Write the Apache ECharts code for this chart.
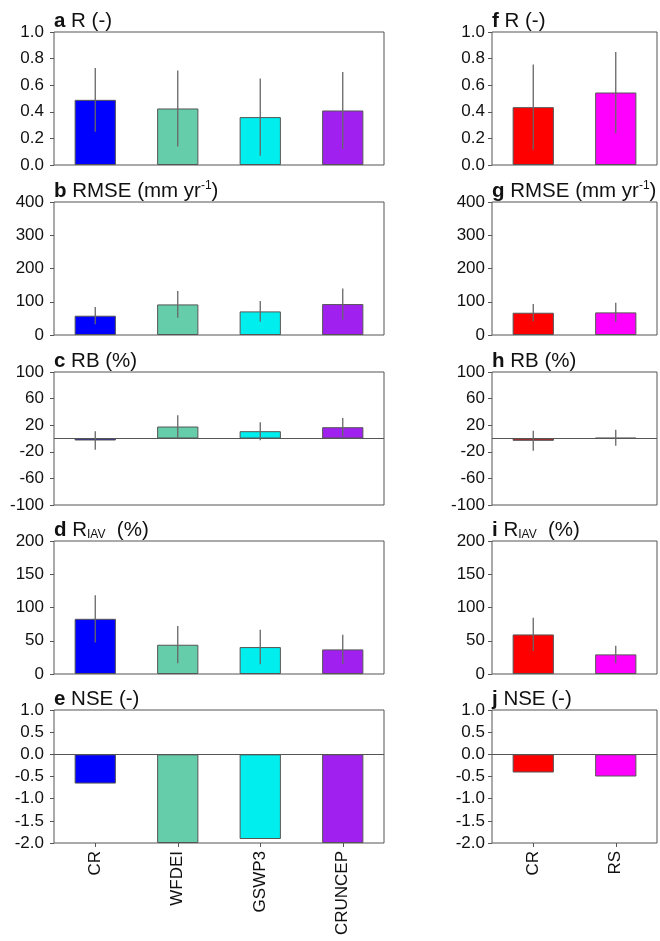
<!DOCTYPE html>
<html>
<head>
<meta charset="utf-8">
<script src="https://cdn.jsdelivr.net/npm/echarts@6/dist/echarts.min.js"></script>
<style>
  html, body { margin: 0; padding: 0; background: #fff; }
  #chart { width: 660px; height: 941px; }
</style>
</head>
<body>
<div id="chart"></div>
<script>
// categories and colours
const leftCats = ['CR', 'WFDEI', 'GSWP3', 'CRUNCEP'];
const rightCats = ['CR', 'RS'];
const leftColors = ['#0000FF', '#66CDAA', '#00EEEE', '#A020F0'];
const rightColors = ['#FF0000', '#FF00FF'];

// R (-)
const rLeft = [0.49, 0.425, 0.36, 0.41];
const rLeftErr = [0.24, 0.285, 0.29, 0.29];
const rRight = [0.435, 0.545];
const rRightErr = [0.32, 0.305];

// RMSE (mm/yr)
const rmseLeft = [58, 92, 71, 93];
const rmseLeftErr = [26, 40, 31, 47];
const rmseRight = [67, 68];
const rmseRightErr = [26, 29];

// RB (%)
const rbLeft = [-3, 18, 11, 17];
const rbLeftErr = [14, 17, 13.5, 14];
const rbRight = [-3.5, 1];
const rbRightErr = [15, 12];

// R_IAV (%)
const riavLeft = [83, 44, 40.5, 37];
const riavLeftErr = [35.5, 28, 26, 22];
const riavRight = [59.5, 29.5];
const riavRightErr = [25, 13];

// NSE (-)
const nseLeft = [-0.66, -2.0, -1.91, -2.0];
const nseRight = [-0.41, -0.5];

const panels = [
  { t: '{b|a} R (-)', min: 0, max: 1, step: 0.2, dec: 1, side: 0, row: 0, v: rLeft, e: rLeftErr },
  { t: '{b|b} RMSE (mm yr{sup|-1})', min: 0, max: 400, step: 100, dec: 0, side: 0, row: 1, v: rmseLeft, e: rmseLeftErr },
  { t: '{b|c} RB (%)', min: -100, max: 100, step: 40, dec: 0, side: 0, row: 2, v: rbLeft, e: rbLeftErr },
  { t: '{b|d} R{sub|IAV}  (%)', min: 0, max: 200, step: 50, dec: 0, side: 0, row: 3, v: riavLeft, e: riavLeftErr },
  { t: '{b|e} NSE (-)', min: -2, max: 1, step: 0.5, dec: 1, side: 0, row: 4, v: nseLeft, e: null },
  { t: '{b|f} R (-)', min: 0, max: 1, step: 0.2, dec: 1, side: 1, row: 0, v: rRight, e: rRightErr },
  { t: '{b|g} RMSE (mm yr{sup|-1})', min: 0, max: 400, step: 100, dec: 0, side: 1, row: 1, v: rmseRight, e: rmseRightErr },
  { t: '{b|h} RB (%)', min: -100, max: 100, step: 40, dec: 0, side: 1, row: 2, v: rbRight, e: rbRightErr },
  { t: '{b|i} R{sub|IAV}  (%)', min: 0, max: 200, step: 50, dec: 0, side: 1, row: 3, v: riavRight, e: riavRightErr },
  { t: '{b|j} NSE (-)', min: -2, max: 1, step: 0.5, dec: 1, side: 1, row: 4, v: nseRight, e: null }
];

const rowTops = [32, 202, 372, 541, 710];
const plotH = 133;
const lineCol = '#555';
const font = 'Arial, "Liberation Sans", Helvetica, sans-serif';

const chart = echarts.init(document.getElementById('chart'));
const option = { animation: false, title: [], grid: [], xAxis: [], yAxis: [], series: [] };

panels.forEach((p, i) => {
  const cats = p.side ? rightCats : leftCats;
  const colors = p.side ? rightColors : leftColors;
  const left = p.side ? 492 : 54;
  const width = cats.length * 82.5;
  const top = rowTops[p.row];
  const bottomRow = p.row === 4;

  option.title.push({
    text: p.t, left: left, top: top - 22, padding: 0,
    textStyle: {
      fontFamily: font, fontSize: 20.5, fontWeight: 'normal', color: '#111', lineHeight: 22,
      rich: {
        b: { fontFamily: font, fontSize: 20.5, fontWeight: 'bold', color: '#111', lineHeight: 22, verticalAlign: 'bottom' },
        sup: { fontFamily: font, fontSize: 12, color: '#111', lineHeight: 12, verticalAlign: 'top' },
        sub: { fontFamily: font, fontSize: 12, color: '#111', lineHeight: 8, verticalAlign: 'bottom' }
      }
    }
  });

  option.grid.push({
    left: left, top: top, width: width, height: plotH,
    show: true, borderColor: lineCol, borderWidth: 1, backgroundColor: 'transparent'
  });

  option.xAxis.push({
    type: 'category', gridIndex: i, data: cats,
    axisLine: { show: false, onZero: false },
    axisTick: { show: bottomRow, alignWithLabel: true, length: 4, lineStyle: { color: lineCol } },
    axisLabel: { show: bottomRow, rotate: 90, fontSize: 17, fontFamily: font, color: '#111', margin: 8 },
    splitLine: { show: false }
  });

  option.yAxis.push({
    type: 'value', gridIndex: i, min: p.min, max: p.max, interval: p.step,
    axisLine: { show: false },
    axisTick: { show: true, length: 4, lineStyle: { color: lineCol } },
    axisLabel: {
      fontSize: 17, fontFamily: font, color: '#111', margin: p.side ? 7 : 10,
      formatter: v => v.toFixed(p.dec)
    },
    splitLine: { show: false }
  });

  const bar = {
    type: 'bar', xAxisIndex: i, yAxisIndex: i, barWidth: '50%',
    data: p.v.map((v, k) => ({ value: v, itemStyle: { color: colors[k] } })),
    itemStyle: { borderColor: lineCol, borderWidth: 1 },
    emphasis: { disabled: true }
  };
  if (p.min < 0) {
    bar.markLine = {
      silent: true, symbol: 'none', label: { show: false },
      lineStyle: { color: lineCol, width: 1, type: 'solid' },
      data: [{ yAxis: 0 }]
    };
  }
  option.series.push(bar);

  if (p.e) {
    option.series.push({
      type: 'custom', xAxisIndex: i, yAxisIndex: i,
      data: p.v.map((v, k) => [k, v - p.e[k], v + p.e[k]]),
      encode: { x: 0, y: [1, 2] },
      renderItem: (params, api) => {
        const lo = api.coord([api.value(0), api.value(1)]);
        const hi = api.coord([api.value(0), api.value(2)]);
        return {
          type: 'line',
          shape: { x1: lo[0], y1: lo[1], x2: hi[0], y2: hi[1] },
          style: { stroke: '#666', lineWidth: 1.3 }
        };
      },
      z: 5
    });
  }
});

chart.setOption(option);
</script>
</body>
</html>
